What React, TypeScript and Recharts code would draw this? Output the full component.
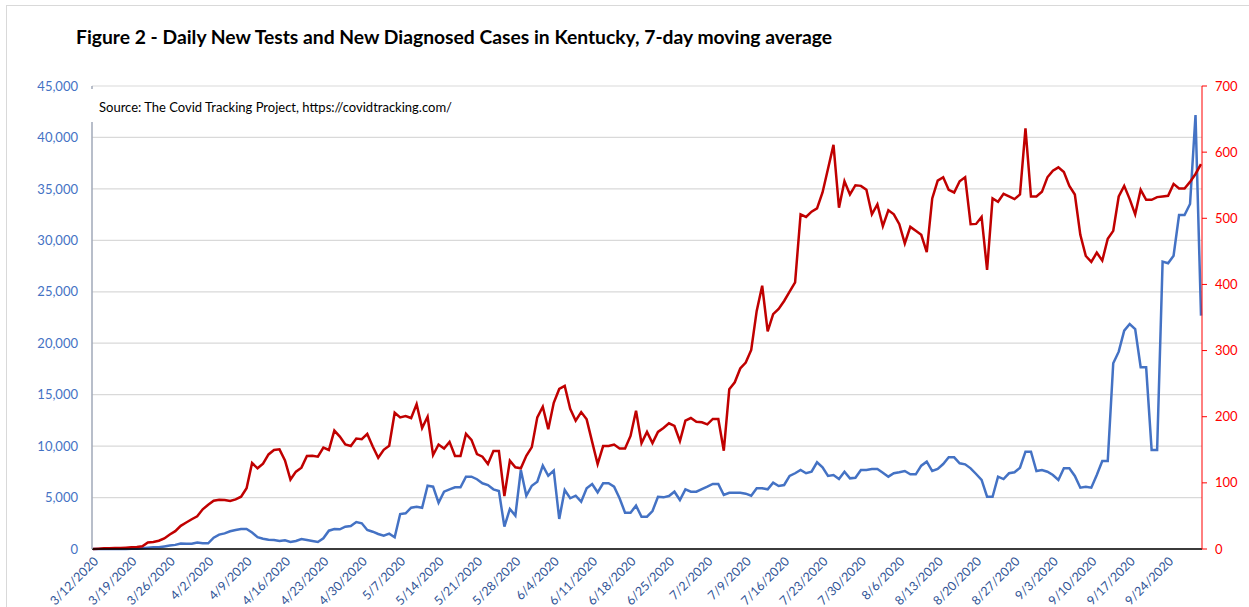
import { LineChart, Line, XAxis, YAxis, CartesianGrid } from "recharts";

// 7-day moving averages, one value per day starting 3/12/2020
const TESTS = [
  0, 0, 0, 0, 0, 0, 10, 20, 30, 80,
  130, 170, 170, 250, 330, 400, 540, 510, 520, 640,
  560, 550, 1100, 1400, 1520, 1720, 1850, 1940, 1950, 1600,
  1150, 1000, 900, 870, 780, 840, 680, 780, 970, 870,
  780, 680, 1040, 1780, 1950, 1910, 2170, 2240, 2620, 2500,
  1850, 1680, 1460, 1300, 1490, 1140, 3400, 3470, 4010, 4110,
  4010, 6150, 6060, 4500, 5570, 5800, 6000, 6000, 7030, 7030,
  6780, 6390, 6220, 5800, 5640, 2170, 3890, 3240, 7680, 5180,
  6150, 6540, 8100, 7120, 7610, 2920, 5730, 4930, 5180, 4600,
  5900, 6320, 5510, 6390, 6390, 6060, 4930, 3530, 3530, 4210,
  3140, 3140, 3690, 5080, 5020, 5150, 5570, 4760, 5800, 5570,
  5570, 5830, 6060, 6320, 6320, 5250, 5470, 5470, 5470, 5380,
  5180, 5900, 5900, 5800, 6440, 6120, 6220, 7100, 7360, 7680,
  7360, 7510, 8430, 7940, 7100, 7190, 6800, 7510, 6870, 6930,
  7680, 7680, 7780, 7780, 7420, 7030, 7360, 7460, 7580, 7260,
  7260, 8100, 8490, 7580, 7780, 8260, 8910, 8910, 8330, 8230,
  7840, 7290, 6710, 5080, 5080, 7030, 6800, 7360, 7460, 7900,
  9460, 9460, 7580, 7680, 7510, 7190, 6710, 7840, 7840, 7100,
  5960, 6060, 5960, 7190, 8550, 8550, 18050, 19180, 21220, 21870,
  21380, 17660, 17660, 9620, 9620, 27930, 27770, 28510, 32460, 32460,
  33530, 42180, 22680,
];

const CASES = [
  0, 0.5, 1, 1, 1.5, 1.5, 2, 2.5, 3, 4,
  10, 10.5, 12.5, 16, 22, 27, 35, 40, 45, 49.5,
  60, 67, 73, 74.6, 74, 72.6, 75, 79, 92, 130,
  122, 129, 143, 149.7, 150.7, 134, 105, 117, 123, 140.6,
  141, 139.6, 153.3, 149.7, 179, 170, 158, 155.7, 167, 166,
  174, 155, 138, 150, 156, 206, 199, 201, 198, 219,
  183, 200, 142, 158, 152, 162, 140.6, 140.6, 174, 165,
  143.6, 139.6, 128.5, 148, 148, 80, 133.6, 123.5, 122, 141,
  154, 199, 215, 181, 221, 242, 246.6, 212, 194, 207,
  196, 162, 128.5, 155.7, 155.7, 158, 152, 152, 171, 209,
  160, 177, 160, 177, 183, 190, 186, 163, 194, 198,
  192.5, 191.6, 188.5, 196.6, 196.6, 148.6, 241.5, 252, 273, 282,
  301, 360, 398, 329, 355, 363, 375, 389, 403, 506,
  502, 510, 515, 539, 575, 611, 516, 556, 536, 550,
  549, 543, 506, 521, 488, 512, 506, 491, 462, 487,
  481, 475, 449, 530, 557, 562, 543, 539, 556, 562,
  491, 491.5, 502, 422, 530, 525, 537, 533, 529, 536,
  636, 533, 533, 540, 562, 572, 577, 570, 549, 536,
  475, 443, 434, 448, 436, 469, 481, 533, 549, 529,
  506, 543, 528, 528, 532, 533, 534, 552, 545, 545,
  555, 567, 582,
];

const TICK_DATES = [
  "3/12/2020", "3/19/2020", "3/26/2020", "4/2/2020", "4/9/2020", "4/16/2020",
  "4/23/2020", "4/30/2020", "5/7/2020", "5/14/2020", "5/21/2020", "5/28/2020",
  "6/4/2020", "6/11/2020", "6/18/2020", "6/25/2020", "7/2/2020", "7/9/2020",
  "7/16/2020", "7/23/2020", "7/30/2020", "8/6/2020", "8/13/2020", "8/20/2020",
  "8/27/2020", "9/3/2020", "9/10/2020", "9/17/2020", "9/24/2020",
];

const LEFT_TICKS = [0, 5000, 10000, 15000, 20000, 25000, 30000, 35000, 40000, 45000];
const RIGHT_TICKS = [0, 100, 200, 300, 400, 500, 600, 700];

const FONT = "Lato, Carlito, Calibri, sans-serif";

function dayLabel(i: number) {
  const d = new Date(Date.UTC(2020, 2, 12 + i));
  return `${d.getUTCMonth() + 1}/${d.getUTCDate()}/${d.getUTCFullYear()}`;
}

const data = TESTS.map((tests, i) => ({ date: dayLabel(i), tests, cases: CASES[i] }));

function DateTick({ x, y, payload }: { x?: number; y?: number; payload?: { value: string } }) {
  const ax = (x ?? 0) + 3;
  const ay = (y ?? 0) + 2;
  return (
    <text
      x={ax}
      y={ay}
      dy="0.35em"
      textAnchor="end"
      transform={`rotate(-45, ${ax}, ${ay})`}
      fill="#305496"
      fontSize={12.5}
      fontFamily={FONT}
    >
      {payload?.value}
    </text>
  );
}

export default function App() {
  return (
    <div style={{ position: "fixed", left: 0, top: 0, width: 1249, height: 607, background: "#fff", overflow: "hidden", fontFamily: FONT }}>
      {/* chart frame */}
      <div style={{ position: "absolute", left: 6, top: 5, width: 1300, height: 700, border: "1px solid #D9D9D9" }} />

      <div style={{ position: "absolute", left: 76, top: 25, fontSize: 19.3, fontWeight: 700, color: "#000", whiteSpace: "nowrap" }}>
        Figure 2 - Daily New Tests and New Diagnosed Cases in Kentucky, 7-day moving average
      </div>

      <LineChart
        width={1249}
        height={607}
        data={data}
        margin={{ top: 86, right: 1, bottom: 0, left: 0 }}
        style={{ position: "absolute", left: 0, top: 0 }}
      >
        <CartesianGrid yAxisId="left" vertical={false} stroke="#D9D9D9" strokeWidth={1.2} />
        <XAxis
          dataKey="date"
          ticks={TICK_DATES}
          interval={0}
          height={58}
          tickLine={false}
          axisLine={{ stroke: "#000", strokeWidth: 1.5 }}
          tick={<DateTick />}
          padding={{ left: 1, right: 1 }}
        />
        <YAxis
          yAxisId="left"
          width={92}
          domain={[0, 45000]}
          ticks={LEFT_TICKS}
          interval={0}
          tickFormatter={(v: number) => v.toLocaleString("en-US")}
          tickLine={false}
          tickMargin={8}
          axisLine={{ stroke: "#A0A8B8", strokeWidth: 1.5 }}
          tick={{ fill: "#4472C4", fontSize: 13, fontFamily: FONT }}
        />
        <YAxis
          yAxisId="right"
          orientation="right"
          width={46}
          domain={[0, 700]}
          ticks={RIGHT_TICKS}
          interval={0}
          tickSize={5}
          tickMargin={8}
          axisLine={{ stroke: "#FF0000" }}
          tickLine={{ stroke: "#FF0000" }}
          tick={{ fill: "#FF0000", fontSize: 13, fontFamily: FONT, textAnchor: "start" }}
        />
        <Line yAxisId="left" type="linear" dataKey="tests" name="New tests" stroke="#4472C4" strokeWidth={2.5} dot={false} isAnimationActive={false} />
        <Line yAxisId="right" type="linear" dataKey="cases" name="New cases" stroke="#C00000" strokeWidth={2.5} dot={false} isAnimationActive={false} />
      </LineChart>

      {/* source note box, sits over the axis line like the text box in the original */}
      <div style={{ position: "absolute", left: 91, top: 89, width: 380, height: 33, background: "#fff", fontSize: 13, color: "#000", whiteSpace: "nowrap" }}>
        <div style={{ position: "absolute", left: 8, top: 10 }}>Source: The Covid Tracking Project, https://covidtracking.com/</div>
      </div>
    </div>
  );
}
